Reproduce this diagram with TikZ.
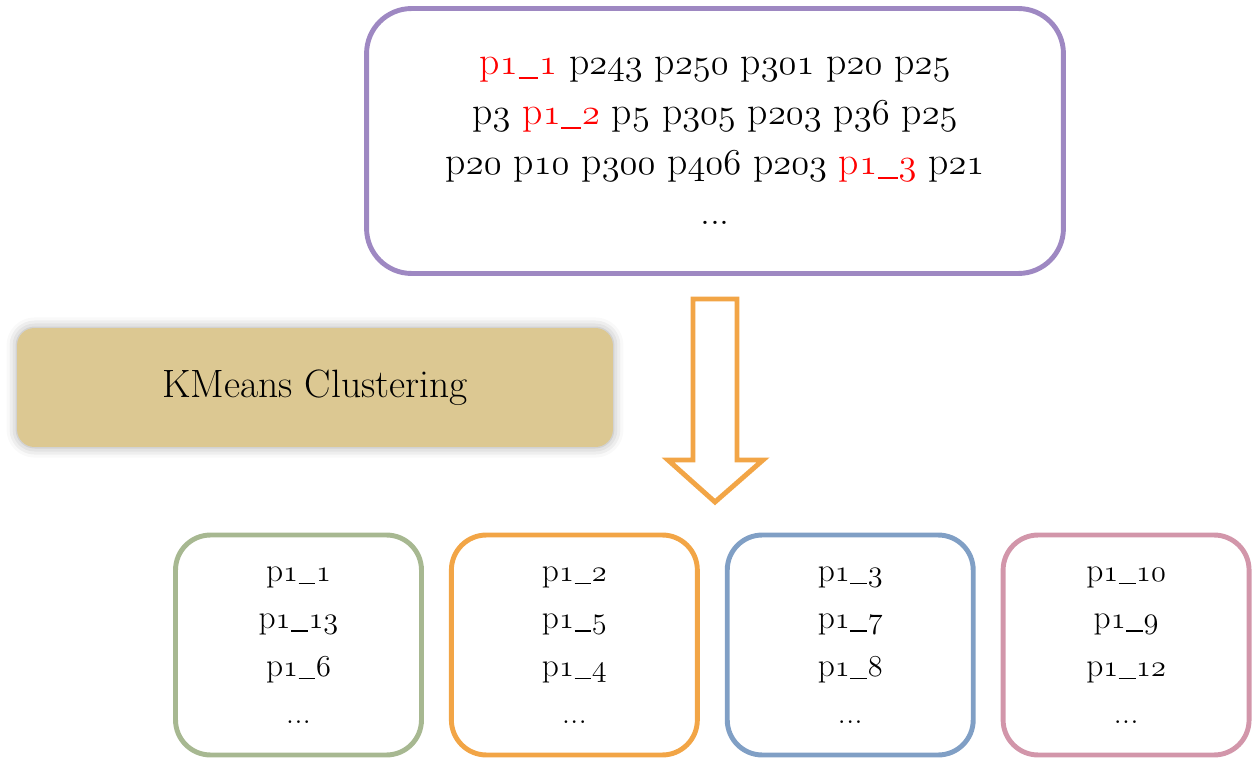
\documentclass[tikz,border=0pt]{standalone}
\usepackage{xcolor}
\usepackage{tikz}
\usetikzlibrary{positioning}
\usetikzlibrary{shadows.blur}

\definecolor{topline}{HTML}{9E88C2}
\definecolor{greenline}{HTML}{A7B891}
\definecolor{orangeline}{HTML}{F2A546}
\definecolor{blueline}{HTML}{809FC5}
\definecolor{pinkline}{HTML}{D296AA}
\definecolor{paper}{HTML}{DCC892}

\newcommand{\pid}[1]{p\legacyoldstylenums{#1}}
\newcommand{\usc}{\kern0.02em\rule[-0.1em]{0.5em}{0.045em}\kern0.02em}
\newcommand{\pone}[1]{p\legacyoldstylenums{1}\usc\legacyoldstylenums{#1}}

\begin{document}
\begin{tikzpicture}[x=0.02cm, y=-0.02cm,
    topbox/.style={draw=topline, line width=2.8pt, rounded corners=0.9cm,
      minimum width=13.94cm, minimum height=5.3cm, align=center,
      font=\fontsize{22.6}{28.5}\selectfont},
    clusterbox/.style={draw=#1, line width=2.8pt, rounded corners=0.7cm,
      minimum width=4.92cm, minimum height=4.4cm, align=center,
      font=\fontsize{19}{27}\selectfont},
    stagebox/.style={fill=paper, rounded corners=0.35cm,
      minimum width=11.92cm, minimum height=2.38cm,
      blur shadow={shadow xshift=0pt, shadow yshift=0pt, shadow blur radius=6pt, shadow opacity=35},
      font=\fontsize{22.5}{26}\selectfont}]
      \useasboundingbox (0,0) rectangle (1255,760);

      % input sequences
      \node[topbox] (seqs) at (715,141) {%
        \textcolor{red}{\pone{1}} \pid{243} \pid{250} \pid{301} \pid{20} \pid{25}\\
        \pid{3} \textcolor{red}{\pone{2}} \pid{5} \pid{305} \pid{203} \pid{36} \pid{25}\\
        \pid{20} \pid{10} \pid{300} \pid{406} \pid{203} \textcolor{red}{\pone{3}} \pid{21}\\
        ...};

      \node[stagebox] (kmeans) at (315,387.5) {KMeans Clustering};

      % block arrow
      \coordinate (tip) at (715,502);
      \draw[orangeline, line width=2.8pt, line join=miter]
        (693,299) -- (737,299) -- (737,460) -- (763,460) -- (tip)
        -- (668,460) -- (693,460) -- cycle;

      % clusters
      \node[clusterbox=greenline] (c1) at (298.5,645) {\pone{1}\\ \pone{13}\\ \pone{6}\\ ...};
      \node[clusterbox=orangeline, right=0.5cm of c1] (c2) {\pone{2}\\ \pone{5}\\ \pone{4}\\ ...};
      \node[clusterbox=blueline, right=0.5cm of c2] (c3) {\pone{3}\\ \pone{7}\\ \pone{8}\\ ...};
      \node[clusterbox=pinkline, right=0.5cm of c3] (c4) {\pone{10}\\ \pone{9}\\ \pone{12}\\ ...};
    \end{tikzpicture}
\end{document}
